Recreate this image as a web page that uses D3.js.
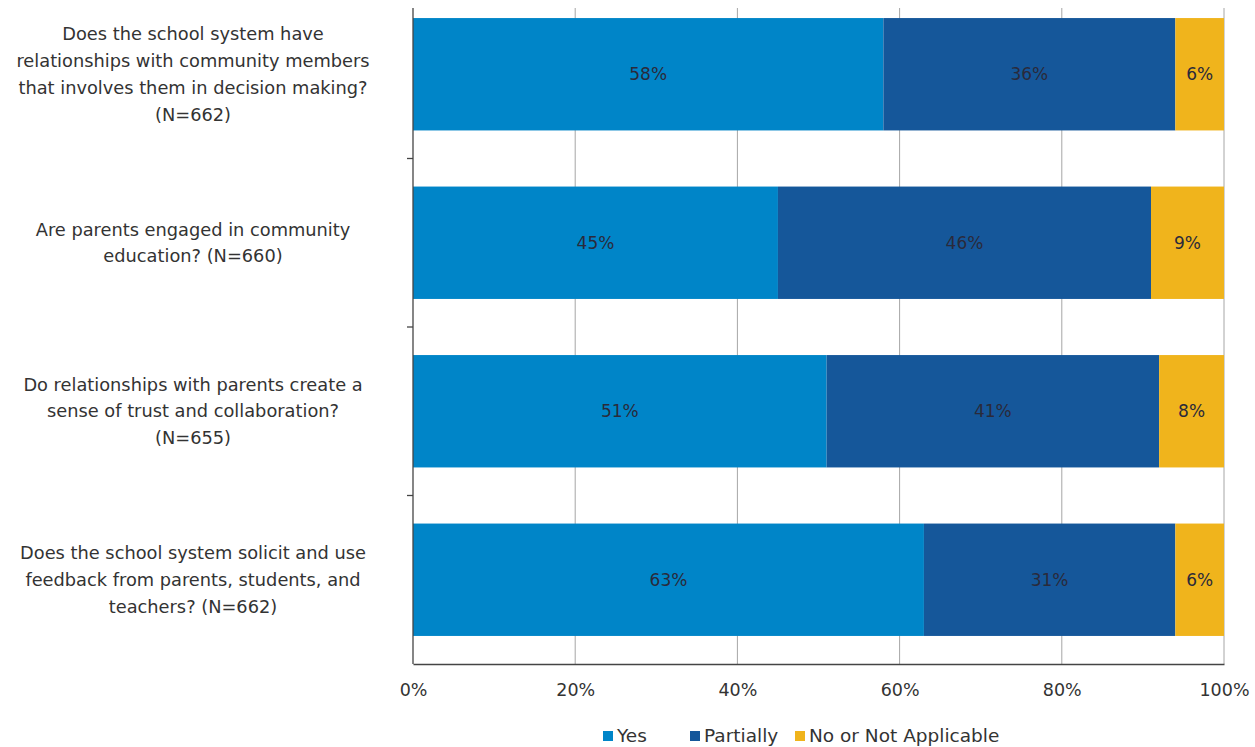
<!DOCTYPE html>
<html>
<head>
<meta charset="utf-8">
<script src="https://cdnjs.cloudflare.com/ajax/libs/d3/7.8.5/d3.min.js"></script>
<style>
  body { margin: 0; background: #fff; }
  text { font-family: "DejaVu Sans", sans-serif; fill: #333; }
</style>
</head>
<body>
<svg id="chart" width="1255" height="747"></svg>
<script>
// categories (each wrapped into lines as in the original)
const questions = [
    ['Does the school system have', 'relationships with community members', 'that involves them in decision making?', '(N=662)'],
    ['Are parents engaged in community', 'education? (N=660)'],
    ['Do relationships with parents create a', 'sense of trust and collaboration?', '(N=655)'],
    ['Does the school system solicit and use', 'feedback from parents, students, and', 'teachers? (N=662)']
];
const seriesNames = ['Yes', 'Partially', 'No or Not Applicable'];
const yesValues = [58, 45, 51, 63];
const partialValues = [36, 46, 41, 31];
const noValues = [6, 9, 8, 6];
const xTicks = [0, 20, 40, 60, 80, 100];
const colors = ['#0085c8', '#15579a', '#f0b41c'];

const svg = d3.select('#chart');
const plotLeft = 413, plotRight = 1224, plotTop = -10, plotBottom = 664;

const x = d3.scaleLinear().domain([0, 100]).range([plotLeft, plotRight]);
const y = d3.scaleBand().domain(d3.range(questions.length)).range([plotTop, plotBottom]).paddingInner(0.333).paddingOuter(0.1665);

// gridlines
svg.append('g')
    .selectAll('line')
    .data(xTicks.slice(1))
    .join('line')
    .attr('x1', d => x(d)).attr('x2', d => x(d))
    .attr('y1', 8).attr('y2', plotBottom)
    .attr('stroke', '#a6a6a6').attr('stroke-width', 1);

// stacked bars
const rows = questions.map((q, i) => ({ i, vals: [yesValues[i], partialValues[i], noValues[i]] }));
const stack = d3.stack().keys([0, 1, 2]).value((d, k) => d.vals[k]);
const layers = stack(rows);

const layerG = svg.append('g').selectAll('g')
    .data(layers)
    .join('g')
    .attr('fill', (d, k) => colors[k]);

layerG.selectAll('rect')
    .data(d => d)
    .join('rect')
    .attr('x', d => x(d[0]))
    .attr('width', d => x(d[1]) - x(d[0]))
    .attr('y', d => y(d.data.i))
    .attr('height', y.bandwidth());

layerG.selectAll('text')
    .data(d => d)
    .join('text')
    .attr('x', d => (x(d[0]) + x(d[1])) / 2)
    .attr('y', d => y(d.data.i) + y.bandwidth() / 2)
    .attr('dy', '0.35em')
    .attr('text-anchor', 'middle')
    .style('font-size', '17px')
    .style('fill', '#2a2a3a')
    .text(d => (d[1] - d[0]) + '%');

// y axis
svg.append('line')
    .attr('x1', plotLeft).attr('x2', plotLeft)
    .attr('y1', 8).attr('y2', plotBottom)
    .attr('stroke', '#444').attr('stroke-width', 1.3);
svg.append('g')
    .selectAll('line')
    .data(d3.range(1, questions.length))
    .join('line')
    .attr('x1', plotLeft - 6).attr('x2', plotLeft)
    .attr('y1', i => y(i) - y.step() * y.paddingInner() / 2)
    .attr('y2', i => y(i) - y.step() * y.paddingInner() / 2)
    .attr('stroke', '#444').attr('stroke-width', 1.3);

// x axis
svg.append('g')
    .attr('transform', `translate(0,${plotBottom})`)
    .call(d3.axisBottom(x).tickValues(xTicks).tickFormat(d => d + '%').tickSize(0).tickPadding(20))
    .call(g => g.select('.domain').attr('stroke', '#444').attr('stroke-width', 1.3))
    .call(g => g.selectAll('text').style('font-size', '17.5px').style('fill', '#333').style('font-family', '"DejaVu Sans", sans-serif'));

// category labels
const lineH = 26.7;
svg.append('g')
    .selectAll('text')
    .data(questions)
    .join('text')
    .attr('text-anchor', 'middle')
    .style('font-size', '17.8px')
    .attr('transform', (d, i) => `translate(193,${y(i) + y.bandwidth() / 2 - (d.length - 1) * lineH / 2})`)
    .selectAll('tspan')
    .data(d => d)
    .join('tspan')
    .attr('x', 0)
    .attr('y', (d, j) => j * lineH)
    .attr('dy', '0.35em')
    .text(d => d);

// legend
const legendX = [603, 690, 795];
const legend = svg.append('g').attr('transform', 'translate(0,736)');
legend.selectAll('rect')
    .data(seriesNames)
    .join('rect')
    .attr('x', (d, k) => legendX[k]).attr('y', -5)
    .attr('width', 10).attr('height', 10)
    .attr('fill', (d, k) => colors[k]);
legend.selectAll('text')
    .data(seriesNames)
    .join('text')
    .attr('x', (d, k) => legendX[k] + 14)
    .attr('dy', '0.35em')
    .style('font-size', '18.5px')
    .text(d => d);
</script>
</body>
</html>
